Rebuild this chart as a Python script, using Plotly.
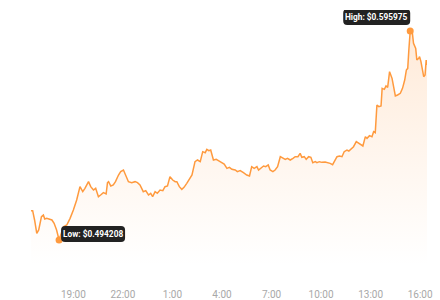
import plotly.graph_objects as go

times = [
 "2024-05-01 16:26","2024-05-01 16:32","2024-05-01 16:39","2024-05-01 16:47","2024-05-01 16:54",
 "2024-05-01 17:04","2024-05-01 17:11","2024-05-01 17:16","2024-05-01 17:23","2024-05-01 17:35",
 "2024-05-01 17:42","2024-05-01 17:50","2024-05-01 17:59","2024-05-01 18:08","2024-05-01 18:15",
 "2024-05-01 18:24","2024-05-01 18:36","2024-05-01 18:48","2024-05-01 19:00","2024-05-01 19:12",
 "2024-05-01 19:24","2024-05-01 19:34","2024-05-01 19:42","2024-05-01 19:55","2024-05-01 20:03",
 "2024-05-01 20:13","2024-05-01 20:21","2024-05-01 20:31","2024-05-01 20:39","2024-05-01 20:49",
 "2024-05-01 20:59","2024-05-01 21:04","2024-05-01 21:08","2024-05-01 21:16","2024-05-01 21:25",
 "2024-05-01 21:33","2024-05-01 21:44","2024-05-01 21:52","2024-05-01 22:02","2024-05-01 22:11",
 "2024-05-01 22:20","2024-05-01 22:32","2024-05-01 22:44","2024-05-01 22:53","2024-05-01 23:02",
 "2024-05-01 23:14","2024-05-01 23:23","2024-05-01 23:33","2024-05-01 23:41","2024-05-01 23:48",
 "2024-05-01 23:57","2024-05-02 00:05","2024-05-02 00:15","2024-05-02 00:25","2024-05-02 00:33",
 "2024-05-02 00:42","2024-05-02 00:51","2024-05-02 01:01","2024-05-02 01:10","2024-05-02 01:16",
 "2024-05-02 01:25","2024-05-02 01:34","2024-05-02 01:42","2024-05-02 01:52","2024-05-02 02:02",
 "2024-05-02 02:11","2024-05-02 02:22","2024-05-02 02:31","2024-05-02 02:41","2024-05-02 02:50",
 "2024-05-02 02:59","2024-05-02 03:05","2024-05-02 03:12","2024-05-02 03:19","2024-05-02 03:29",
 "2024-05-02 03:39","2024-05-02 03:47","2024-05-02 03:59","2024-05-02 04:08","2024-05-02 04:18",
 "2024-05-02 04:27","2024-05-02 04:36","2024-05-02 04:48","2024-05-02 04:56","2024-05-02 05:06",
 "2024-05-02 05:18","2024-05-02 05:30","2024-05-02 05:40","2024-05-02 05:48","2024-05-02 05:57",
 "2024-05-02 06:07","2024-05-02 06:13","2024-05-02 06:21","2024-05-02 06:31","2024-05-02 06:39",
 "2024-05-02 06:48","2024-05-02 06:55","2024-05-02 07:05","2024-05-02 07:13","2024-05-02 07:22",
 "2024-05-02 07:32","2024-05-02 07:41","2024-05-02 07:50","2024-05-02 07:58","2024-05-02 08:08",
 "2024-05-02 08:18","2024-05-02 08:26","2024-05-02 08:36","2024-05-02 08:44","2024-05-02 08:50",
 "2024-05-02 08:59","2024-05-02 09:06","2024-05-02 09:15","2024-05-02 09:23","2024-05-02 09:30",
 "2024-05-02 09:39","2024-05-02 09:45","2024-05-02 09:54","2024-05-02 10:03","2024-05-02 10:15",
 "2024-05-02 10:27","2024-05-02 10:33","2024-05-02 10:42","2024-05-02 10:50","2024-05-02 10:58",
 "2024-05-02 11:07","2024-05-02 11:16","2024-05-02 11:24","2024-05-02 11:34","2024-05-02 11:41",
 "2024-05-02 11:49","2024-05-02 11:58","2024-05-02 12:08","2024-05-02 12:16","2024-05-02 12:25",
 "2024-05-02 12:32","2024-05-02 12:41","2024-05-02 12:47","2024-05-02 12:56","2024-05-02 13:05",
 "2024-05-02 13:11","2024-05-02 13:17","2024-05-02 13:23","2024-05-02 13:30","2024-05-02 13:38",
 "2024-05-02 13:42","2024-05-02 13:50","2024-05-02 13:56","2024-05-02 14:02","2024-05-02 14:09",
 "2024-05-02 14:18","2024-05-02 14:24","2024-05-02 14:30","2024-05-02 14:38","2024-05-02 14:48",
 "2024-05-02 14:56","2024-05-02 15:04","2024-05-02 15:10","2024-05-02 15:15","2024-05-02 15:19",
 "2024-05-02 15:24","2024-05-02 15:32","2024-05-02 15:36","2024-05-02 15:44","2024-05-02 15:48",
 "2024-05-02 15:55","2024-05-02 15:58","2024-05-02 16:03","2024-05-02 16:08","2024-05-02 16:13",
 "2024-05-02 16:18","2024-05-02 16:22","2024-05-02 16:25",
]

prices = [
 0.50849,0.50849,0.50395,0.49745,0.49908,0.50557,0.50638,0.50443,0.50476,0.50443,
 0.50395,0.50232,0.49908,0.494208,0.49664,0.50070,0.50151,0.50476,0.50882,0.51368,
 0.52018,0.51774,0.51937,0.52261,0.52018,0.51855,0.51937,0.51531,0.51612,0.51726,
 0.51661,0.52212,0.52261,0.52050,0.52099,0.52261,0.52586,0.52748,0.52829,0.52505,
 0.52261,0.52212,0.52261,0.52212,0.52099,0.51774,0.51823,0.51612,0.51693,0.51531,
 0.51774,0.51693,0.51855,0.51823,0.52018,0.52050,0.52505,0.52342,0.52261,0.52261,
 0.52018,0.51888,0.51985,0.52180,0.52423,0.52586,0.53235,0.53316,0.53235,0.53722,
 0.53673,0.53835,0.53770,0.53803,0.53316,0.53349,0.53284,0.53186,0.53121,0.52910,
 0.52959,0.52862,0.52829,0.52748,0.52797,0.52699,0.52586,0.52537,0.52991,0.52910,
 0.52991,0.52829,0.52910,0.53024,0.52991,0.53073,0.52829,0.52748,0.52829,0.52991,
 0.53478,0.53397,0.53349,0.53397,0.53316,0.53397,0.53478,0.53478,0.53641,0.53446,
 0.53478,0.53349,0.53478,0.53446,0.53186,0.53235,0.53186,0.53235,0.53202,0.53219,
 0.53186,0.53154,0.53089,0.53316,0.53478,0.53511,0.53478,0.53722,0.53803,0.53754,
 0.53835,0.53965,0.54209,0.54128,0.54079,0.53998,0.54452,0.54371,0.54501,0.54452,
 0.54696,0.54647,0.55994,0.55913,0.55945,0.56806,0.56757,0.56919,0.56854,0.57617,
 0.57292,0.56887,0.56432,0.56481,0.56562,0.56806,0.57211,0.57698,0.57779,0.58672,
 0.595975,0.59483,0.58997,0.58753,0.58185,0.58266,0.58347,0.58104,0.57698,0.57373,
 0.57455,0.58185,0.57942,
]

tick_vals = ["2024-05-01 19:00","2024-05-01 22:00","2024-05-02 01:00","2024-05-02 04:00",
             "2024-05-02 07:00","2024-05-02 10:00","2024-05-02 13:00","2024-05-02 16:00"]
tick_text = ["19:00","22:00","1:00","4:00","7:00","10:00","13:00","16:00"]

LINE = "#FF9A3E"

hi_i = max(range(len(prices)), key=lambda i: prices[i])
lo_i = min(range(len(prices)), key=lambda i: prices[i])
hi_v, lo_v = prices[hi_i], prices[lo_i]
per_px = (hi_v - lo_v) / 209.0
y_range = [lo_v - 25 * per_px, hi_v + 21 * per_px]

fig = go.Figure()
fig.add_trace(go.Scatter(
    x=times, y=prices, mode="lines",
    line=dict(color=LINE, width=1.5),
    fill="tozeroy",
    fillgradient=dict(type="vertical",
                      colorscale=[[0, "rgba(255,160,80,0.0)"], [1, "rgba(255,150,60,0.2)"]],
                      start=y_range[0], stop=hi_v),
    hoverinfo="skip",
))
fig.add_trace(go.Scatter(
    x=[times[hi_i], times[lo_i]], y=[hi_v, lo_v], mode="markers",
    marker=dict(color=LINE, size=7), hoverinfo="skip",
))


def rrect(x0, x1, y0, y1, r):
    return (f"M {x0+r},{y0} L {x1-r},{y0} Q {x1},{y0} {x1},{y0+r} "
            f"L {x1},{y1-r} Q {x1},{y1} {x1-r},{y1} L {x0+r},{y1} "
            f"Q {x0},{y1} {x0},{y1-r} L {x0},{y0+r} Q {x0},{y0} {x0+r},{y0} Z")


boxes = [
    (times[hi_i], hi_v, -67, 0, 6, 22, f"High: ${hi_v:.6f}"),
    (times[lo_i], lo_v, 2, 66, -2, 14, f"Low: ${lo_v:.6f}"),
]
for xa, ya, x0, x1, y0, y1, label in boxes:
    fig.add_shape(type="path", xref="x", yref="y", xsizemode="pixel", ysizemode="pixel",
                  xanchor=xa, yanchor=ya, path=rrect(x0, x1, y0, y1, 4),
                  fillcolor="#222222", line=dict(width=0), layer="above")
    fig.add_annotation(x=xa, y=ya, xref="x", yref="y", text=f"<b>{label}</b>",
                       showarrow=False, xanchor="center", yanchor="middle",
                       xshift=(x0 + x1) / 2, yshift=(y0 + y1) / 2,
                       font=dict(family="Roboto", size=8.3, color="white"))

fig.update_layout(
    width=440, height=300,
    margin=dict(l=31, r=13, t=10, b=35),
    paper_bgcolor="white", plot_bgcolor="white",
    showlegend=False,
    xaxis=dict(type="date", range=[times[0], times[-1]], tickvals=tick_vals, ticktext=tick_text,
               showgrid=False, zeroline=False, showline=False, automargin=False,
               ticks="outside", ticklen=20, tickcolor="rgba(0,0,0,0)",
               tickfont=dict(family="Roboto", size=10, color="#a8a8a8")),
    yaxis=dict(range=y_range, showgrid=False, zeroline=False, showline=False,
               showticklabels=False, ticks="", automargin=False),
)

fig.write_html("out.html")
